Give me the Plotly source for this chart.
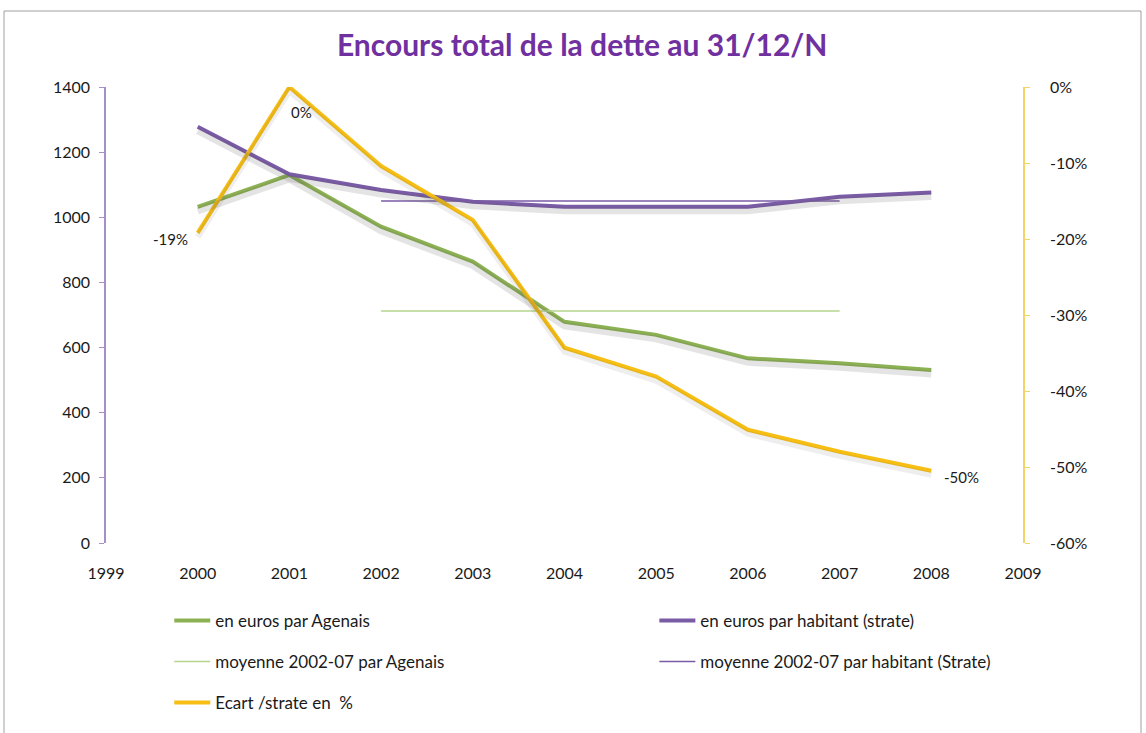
import plotly.graph_objects as go

years = [2000, 2001, 2002, 2003, 2004, 2005, 2006, 2007, 2008]
agenais = [1032, 1130, 971, 864, 679, 639, 567, 552, 531]
strate = [1278, 1132, 1084, 1048, 1032, 1032, 1032, 1063, 1076]
mean_years = [2002, 2007]
mean_agenais = [712, 712]
mean_strate = [1050, 1050]
ecart = [-0.192, 0.0, -0.104, -0.175, -0.343, -0.381, -0.451, -0.480, -0.505]
label_idx = [0, 1, 8]
label_text = ["-19%", "0%", "-50%"]
pct_vals = [0, -0.1, -0.2, -0.3, -0.4, -0.5, -0.6]
pct_text = ["0%", "-10%", "-20%", "-30%", "-40%", "-50%", "-60%"]

FONT = "Lato"
GREEN = "#8CB153"
PURPLE = "#7A5BA5"
YELLOW = "#F7BE14"
TXT = "#1a1a1a"
SHADOW = "rgba(90,90,90,0.16)"

Y_RANGE = [0, 1400]
Y2_RANGE = [-0.6, 0]
PLOT_H = 456
SH_PX = 4  # shadow offset in pixels
d1 = SH_PX * (Y_RANGE[1] - Y_RANGE[0]) / PLOT_H
d2 = SH_PX * (Y2_RANGE[1] - Y2_RANGE[0]) / PLOT_H

fig = go.Figure()

# soft shadows (same data, on hidden axes offset by a few pixels)
for ys in (agenais, strate):
    fig.add_trace(go.Scatter(x=years, y=ys, mode="lines", showlegend=False, hoverinfo="skip",
                             line=dict(color=SHADOW, width=7), yaxis="y3"))
fig.add_trace(go.Scatter(x=years, y=ecart, mode="lines", showlegend=False, hoverinfo="skip",
                         line=dict(color="rgba(90,90,90,0.10)", width=6), yaxis="y4"))

fig.add_trace(go.Scatter(x=years, y=agenais, mode="lines", name="en euros par Agenais",
                         line=dict(color=GREEN, width=4), legend="legend"))
fig.add_trace(go.Scatter(x=years, y=strate, mode="lines", name="en euros par habitant (strate)",
                         line=dict(color=PURPLE, width=4), legend="legend2"))
fig.add_trace(go.Scatter(x=mean_years, y=mean_agenais, mode="lines", name="moyenne 2002-07 par Agenais",
                         line=dict(color="#B5D48C", width=1.5), legend="legend3"))
fig.add_trace(go.Scatter(x=mean_years, y=mean_strate, mode="lines",
                         name="moyenne 2002-07 par habitant (Strate)",
                         line=dict(color=PURPLE, width=1.5), legend="legend4"))
fig.add_trace(go.Scatter(x=years, y=ecart, mode="lines", name="Ecart /strate en  %",
                         line=dict(color=YELLOW, width=4), yaxis="y2", legend="legend5"))

shifts = [(-27, -6), (12, -25), (30, -6)]
for i, t, (dx, dy) in zip(label_idx, label_text, shifts):
    fig.add_annotation(x=years[i], y=ecart[i], xref="x", yref="y2", text=t, showarrow=False,
                       xshift=dx, yshift=dy, font=dict(family=FONT, size=15, color=TXT))

legend_common = dict(font=dict(family=FONT, size=17, color=TXT),
                     bgcolor="rgba(0,0,0,0)", xanchor="left", yanchor="middle",
                     itemwidth=36)

col1 = 0.069
col2 = 0.598
fig.update_layout(
    width=1146, height=733,
    margin=dict(l=106, r=123, t=87, b=190, autoexpand=False),
    paper_bgcolor="white", plot_bgcolor="white",
    title=dict(text="<b>Encours total de la dette au 31/12/N</b>", x=0.508, xanchor="center",
               y=0.938, yanchor="middle",
               font=dict(family=FONT, size=30, color="#7030A0")),
    xaxis=dict(range=[1999, 2009], dtick=1, tick0=1999, showgrid=False, zeroline=False,
               showline=False, ticks="", ticklabelstandoff=19,
               tickfont=dict(family=FONT, size=16, color=TXT)),
    yaxis=dict(range=Y_RANGE, dtick=200, showgrid=False, zeroline=False,
               showline=True, linecolor="#A68FC8", linewidth=1.5,
               ticks="outside", ticklen=5, tickcolor="#A68FC8",
               tickfont=dict(family=FONT, size=16, color=TXT), ticklabelstandoff=6),
    yaxis2=dict(range=Y2_RANGE, tickvals=pct_vals, ticktext=pct_text, overlaying="y", side="right",
                showgrid=False, zeroline=False, showline=True, linecolor="#F3D36A", linewidth=1.5,
                ticks="outside", ticklen=5, tickcolor="#F3D36A",
                tickfont=dict(family=FONT, size=16, color=TXT), ticklabelstandoff=17),
    yaxis3=dict(range=[Y_RANGE[0] + d1, Y_RANGE[1] + d1], overlaying="y", visible=False),
    yaxis4=dict(range=[Y2_RANGE[0] + d2, Y2_RANGE[1] + d2], overlaying="y", visible=False),
    legend=dict(x=col1, y=-0.171, **legend_common),
    legend2=dict(x=col2, y=-0.171, **legend_common),
    legend3=dict(x=col1, y=-0.261, **legend_common),
    legend4=dict(x=col2, y=-0.261, **legend_common),
    legend5=dict(x=col1, y=-0.351, **legend_common),
    showlegend=True,
)

fig.add_shape(type="rect", xref="paper", yref="paper",
              x0=-102 / 917, x1=(1141 - 106) / 917, y0=-200 / 456, y1=(543 - 11) / 456,
              line=dict(color="#A0A0A0", width=1), fillcolor="rgba(0,0,0,0)", layer="below")

fig.write_html("out.html", config={"displayModeBar": False},
               post_script="document.body.style.margin='0';document.body.style.overflow='hidden';")
